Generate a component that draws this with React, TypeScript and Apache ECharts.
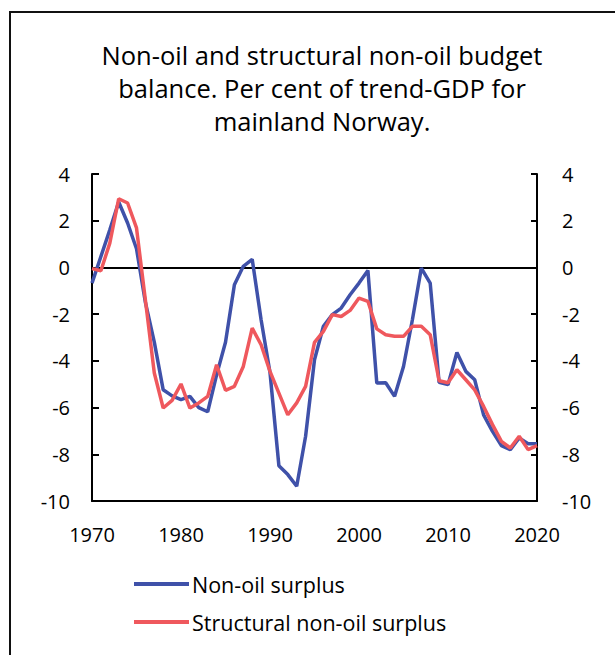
import React, { useEffect, useRef } from "react";
import * as echarts from "echarts";

const years: number[] = [
  1970, 1971, 1972, 1973, 1974, 1975, 1976, 1977, 1978, 1979,
  1980, 1981, 1982, 1983, 1984, 1985, 1986, 1987, 1988, 1989,
  1990, 1991, 1992, 1993, 1994, 1995, 1996, 1997, 1998, 1999,
  2000, 2001, 2002, 2003, 2004, 2005, 2006, 2007, 2008, 2009,
  2010, 2011, 2012, 2013, 2014, 2015, 2016, 2017, 2018, 2019, 2020,
];

const nonOilSurplus: number[] = [
  -0.67, 0.47, 1.61, 2.8, 1.9, 0.8, -1.5, -3.2, -5.24, -5.5,
  -5.66, -5.52, -6.0, -6.18, -4.6, -3.2, -0.74, 0.05, 0.35, -2.24,
  -4.5, -8.49, -8.87, -9.37, -7.23, -3.95, -2.52, -2.02, -1.74, -1.17,
  -0.67, -0.13, -4.95, -4.94, -5.52, -4.24, -2.24, -0.03, -0.67, -4.92,
  -5.02, -3.64, -4.45, -4.81, -6.31, -7.02, -7.63, -7.8, -7.3, -7.55, -7.55,
];

const structuralNonOilSurplus: number[] = [
  -0.05, -0.14, 1.04, 2.94, 2.76, 1.69, -1.4, -4.52, -6.02, -5.69,
  -4.99, -6.02, -5.8, -5.52, -4.17, -5.26, -5.09, -4.24, -2.6, -3.31,
  -4.45, -5.38, -6.31, -5.8, -5.09, -3.21, -2.74, -2.02, -2.1, -1.84,
  -1.31, -1.45, -2.63, -2.88, -2.95, -2.95, -2.52, -2.52, -2.88, -4.85,
  -4.94, -4.38, -4.81, -5.24, -5.95, -6.73, -7.45, -7.73, -7.23, -7.8, -7.63,
];

const seriesNames: string[] = ["Non-oil surplus", "Structural non-oil surplus"];
const titleLines: string[] = [
  "Non-oil and structural non-oil budget",
  "balance. Per cent of trend-GDP for",
  "mainland Norway.",
];

const FONT = "'Open Sans', 'Noto Sans', sans-serif";
const BLUE = "#3F51A9";
const RED = "#EF585D";

export default function App() {
  const ref = useRef<HTMLDivElement>(null);

  useEffect(() => {
    if (!ref.current) return;
    const chart = echarts.init(ref.current, undefined, { renderer: "svg" });

    const pairs = (vals: number[]) => years.map((y, i) => [y, vals[i]]);

    const yAxisCommon = {
      type: "value" as const,
      min: -10,
      max: 4,
      interval: 2,
      splitLine: { show: false },
      axisLine: { show: true, lineStyle: { color: "#000", width: 2 } },
      axisTick: { show: true, inside: true, length: 7, lineStyle: { color: "#000", width: 2 } },
    };

    chart.setOption({
      animation: false,
      backgroundColor: "#fff",
      textStyle: { fontFamily: FONT },
      title: {
        text: titleLines.join("\n"),
        left: 317,
        top: 33,
        textAlign: "center",
        textStyle: {
          fontFamily: FONT,
          fontSize: 25.5,
          fontWeight: "normal",
          color: "#000",
          lineHeight: 33,
        },
      },
      graphic: [
        {
          type: "rect",
          shape: { x: 10, y: 12, width: 700, height: 700 },
          style: { fill: "none", stroke: "#111", lineWidth: 2 },
          silent: true,
          z: 100,
        },
      ],
      legend: {
        orient: "vertical",
        left: 134,
        top: 573,
        padding: 0,
        itemWidth: 55,
        itemHeight: 4,
        itemGap: 16,
        icon: "rect",
        data: seriesNames,
        textStyle: { fontFamily: FONT, fontSize: 21.5, color: "#000", padding: [0, 0, 0, -2] },
      },
      grid: { left: 92, right: 78, top: 174, bottom: 154, containLabel: false },
      xAxis: {
        type: "value",
        min: 1970,
        max: 2020,
        interval: 10,
        splitLine: { show: false },
        axisLine: { show: true, onZero: false, lineStyle: { color: "#000", width: 2 } },
        axisTick: { show: false },
        axisLabel: {
          fontFamily: FONT,
          fontSize: 20,
          color: "#000",
          margin: 23,
          formatter: (v: number) => String(v),
        },
      },
      yAxis: [
        {
          ...yAxisCommon,
          position: "left",
          axisLabel: { fontFamily: FONT, fontSize: 20, color: "#000", margin: 22 },
        },
        {
          ...yAxisCommon,
          position: "right",
          axisTick: { show: true, inside: true, length: 6, lineStyle: { color: "#000", width: 2 } },
          axisLabel: { fontFamily: FONT, fontSize: 20, color: "#000", margin: 25 },
        },
      ],
      series: [
        {
          name: seriesNames[0],
          type: "line",
          data: pairs(nonOilSurplus),
          symbol: "none",
          lineStyle: { color: BLUE, width: 3.5 },
          itemStyle: { color: BLUE },
          z: 3,
          markLine: {
            silent: true,
            symbol: "none",
            label: { show: false },
            lineStyle: { color: "#000", width: 2, type: "solid" },
            data: [{ yAxis: 0 }],
            z: 1,
          },
        },
        {
          name: seriesNames[1],
          type: "line",
          data: pairs(structuralNonOilSurplus),
          symbol: "none",
          lineStyle: { color: RED, width: 3.5 },
          itemStyle: { color: RED },
          z: 4,
        },
      ],
    });

    return () => chart.dispose();
  }, []);

  return (
    <div
      ref={ref}
      style={{ position: "absolute", left: 0, top: 0, width: 615, height: 655 }}
    />
  );
}
